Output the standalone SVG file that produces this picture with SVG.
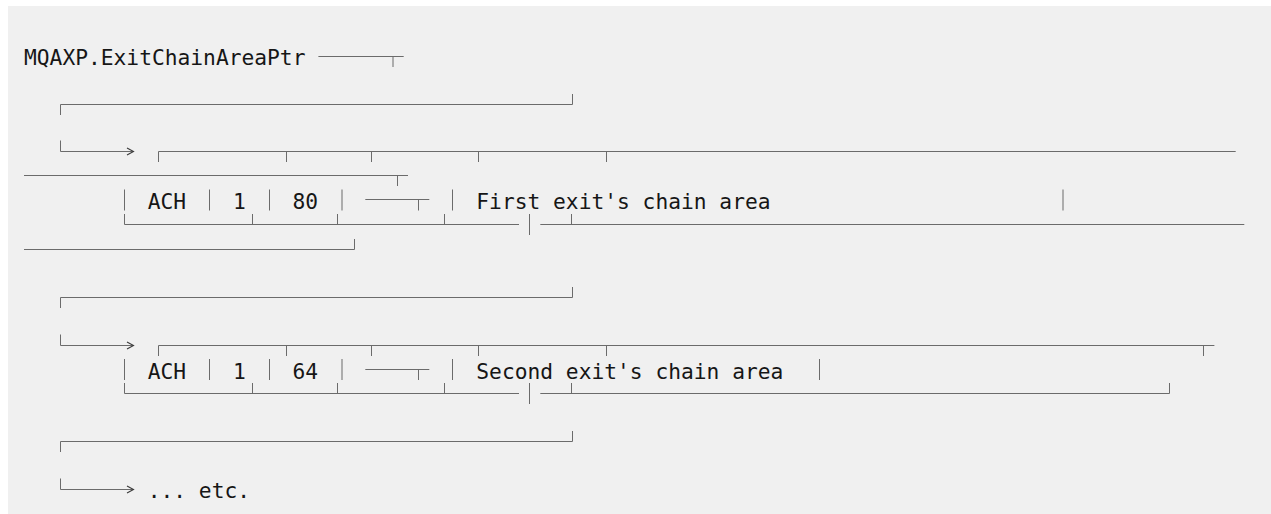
<svg xmlns="http://www.w3.org/2000/svg" width="1271" height="514" viewBox="0 0 1271 514">
<style>
.ln{stroke:#6b6b6b;stroke-width:1;fill:none}
.ah{stroke:#3a3a3a;stroke-width:1.1;fill:none}
.tx{font-family:"DejaVu Sans Mono","Liberation Mono",monospace;font-size:21.26px;fill:#161616}
</style>
<rect x="0" y="0" width="1271" height="514" fill="#ffffff"/>
<rect x="8" y="6" width="1263" height="508" fill="#f0f0f0"/>
<g id="title">
<text class="tx" x="24" y="65">MQAXP.ExitChainAreaPtr</text>
</g>
<g id="chain-area-1">
<path class="ln" d="M158.5,162 V151.5 H1235.7 M286.5,151.5 V162 M371.5,151.5 V162 M478.5,151.5 V162 M606.5,151.5 V162"/>
<path class="ln" d="M24,175.5 H408 M397.5,175.5 V186"/>
<path class="ln" d="M124.5,189.5 V210.5 M209.5,189.5 V210.5 M269.5,189.5 V210.5 M342,189.5 V210.5 M452.5,189.5 V210.5 M1063,189.5 V210.5"/>
<path class="ln" d="M124.5,214 V224.5 H519 M540.3,224.5 H1244.3 M252.5,224.5 V214 M337.5,224.5 V214 M444.5,224.5 V214 M571.5,224.5 V214"/>
<path class="ln" d="M24,249.5 H354.5 V239"/>
<text class="tx" x="147.7" y="209">ACH</text>
<text class="tx" x="232.9" y="209">1</text>
<text class="tx" x="292.5" y="209">80</text>
<text class="tx" x="476.3" y="209">First exit's chain area</text>
</g>
<g id="chain-area-2">
<path class="ln" d="M158.5,356 V345.5 H1214.4 M286.5,345.5 V356 M371.5,345.5 V356 M478.5,345.5 V356 M606.5,345.5 V356 M1203.5,345.5 V356"/>
<path class="ln" d="M124.5,359 V380 M209.5,359 V380 M269.5,359 V380 M342,359 V380 M452.5,359 V380 M819.5,359 V380"/>
<path class="ln" d="M124.5,383 V393.5 H519 M540.3,393.5 H1169.5 V383 M252.5,393.5 V383 M337.5,393.5 V383 M444.5,393.5 V383 M571.5,393.5 V383"/>
<text class="tx" x="147.7" y="378.5">ACH</text>
<text class="tx" x="232.9" y="378.5">1</text>
<text class="tx" x="292.5" y="378.5">64</text>
<text class="tx" x="476.3" y="378.5">Second exit's chain area</text>
</g>
<g id="etc">
<text class="tx" x="147.7" y="498">... etc.</text>
</g>
<g id="connectors">
<path class="ln" d="M318.4,56.5 H403.7 M393,56.5 V67"/>
<path class="ln" d="M60.5,115 V104.5 H572.5 V94"/>
<path class="ln" d="M60.5,140.5 V151.5 H133"/>
<path class="ah" d="M127,148 L133.5,151.5 L127,155"/>
<path class="ln" d="M365.3,199.5 H429.3 M418.5,199.5 V210.5 M529.5,214 V235"/>
<path class="ln" d="M60.5,308 V297.5 H572.5 V287"/>
<path class="ln" d="M60.5,334.5 V345.5 H133"/>
<path class="ah" d="M127,342 L133.5,345.5 L127,349"/>
<path class="ln" d="M365.3,369.5 H429.3 M418.5,369.5 V380 M529.5,383 V404"/>
<path class="ln" d="M60.5,452 V441.5 H572.5 V431"/>
<path class="ln" d="M60.5,478.5 V489.5 H133"/>
<path class="ah" d="M127,486 L133.5,489.5 L127,493"/>
</g>
</svg>
